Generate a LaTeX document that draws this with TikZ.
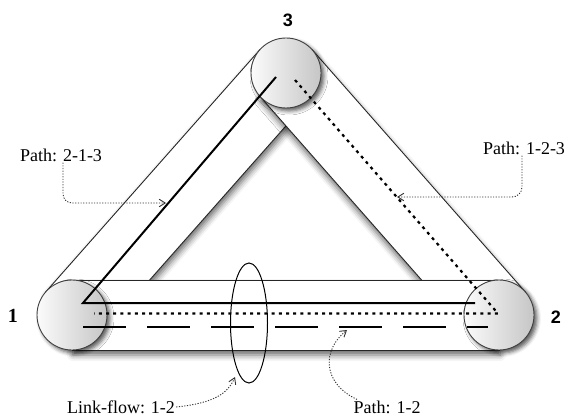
\documentclass[tikz,border=0pt]{standalone}
\usepackage{fontspec}
\setmainfont{Liberation Serif}
\newfontfamily\numfont{Liberation Sans}
\usetikzlibrary{calc,shadows.blur,arrows.meta,shapes.geometric}
\begin{document}
\begin{tikzpicture}[x=1pt,y=-1pt,
  bar/.style={fill=white, draw=black!85, line width=0.9pt,
    blur shadow={shadow xshift=1pt, shadow yshift=-5pt, shadow blur radius=6pt, shadow opacity=60}},
  nodecirc/.style={circle, minimum size=70pt, inner sep=0pt, draw=black!75, line width=0.9pt,
    left color=gray!3, right color=gray!45,
    blur shadow={shadow xshift=3pt, shadow yshift=-3pt, shadow blur radius=4pt, shadow opacity=65}},
  solidpath/.style={line width=2pt, black},
  dotpath/.style={line width=2.2pt, dash pattern=on 3pt off 4.2pt},
  dashpath/.style={line width=2pt, dash pattern=on 43pt off 21pt},
  note/.style={draw=black!80, line width=0.9pt, dash pattern=on 1.2pt off 1.5pt,
    -{Straight Barb[length=6pt,width=7.5pt]}},
  lbl/.style={font=\fontsize{18}{20}\selectfont, inner sep=1pt},
  numlbl/.style={font=\numfont\bfseries\fontsize{18}{20}\selectfont, inner sep=0pt}
]
\useasboundingbox (0,0) rectangle (568,417);

% node centres
\coordinate (p1) at (72,315);
\coordinate (p2) at (499,315);
\coordinate (p3) at (286,73);

% bars (links)
\draw[bar] ($(p1)!35pt!90:(p3)$) -- ($(p3)!35pt!-90:(p1)$) -- ($(p3)!35pt!90:(p1)$) -- ($(p1)!35pt!-90:(p3)$) -- cycle;
\draw[bar] ($(p2)!35pt!90:(p3)$) -- ($(p3)!35pt!-90:(p2)$) -- ($(p3)!35pt!90:(p2)$) -- ($(p2)!35pt!-90:(p3)$) -- cycle;
\draw[bar] ($(p1)!35pt!90:(p2)$) -- ($(p2)!35pt!-90:(p1)$) -- ($(p2)!35pt!90:(p1)$) -- ($(p1)!35pt!-90:(p2)$) -- cycle;

% node circles
\node[nodecirc] (c1) at (p1) {};
\node[nodecirc] (c2) at (p2) {};
\node[nodecirc] (c3) at (p3) {};

% paths
\coordinate (s3) at (276,77);
\coordinate (s1) at (83,303);
\coordinate (s2) at (475,303);
\draw[solidpath] (s3) -- (s1) -- (s2);

\coordinate (d3) at (295,80);
\coordinate (d2) at (498,313.5);
\coordinate (d1) at (94,313.5);
\draw[dotpath] (d3) -- (d2) -- (d1);

\coordinate (e1) at (83,326.5);
\coordinate (e2) at (488,326.5);
\draw[dashpath] (e1) -- (e2);

% link flow ellipse
\node[draw, ellipse, line width=1pt, minimum width=37pt, minimum height=120pt, inner sep=0pt] (lf) at (249,323) {};

% node labels
\node[font=\bfseries\fontsize{20}{22}\selectfont, inner sep=0pt] (n1) at (13,316) {1};
\node[numlbl] (n2) at (556,317) {2};
\node[numlbl] (n3) at (288,20) {3};

% annotation labels
\node[lbl] (l213) at (61,155) {Path: 2-1-3};
\node[lbl] (l123) at (524,148) {Path: 1-2-3};
\node[lbl] (llf) at (121,407) {Link-flow: 1-2};
\node[lbl] (l12) at (387,407) {Path: 1-2};

\coordinate (t213) at (166,203);
\coordinate (t123) at (397,197);
\coordinate (tlf) at (235,377);
\coordinate (t12) at (347,330);

\draw[note, rounded corners=9pt] ([xshift=2pt]l213.south) |- (t213);
\draw[note, rounded corners=10pt] ([xshift=-2pt]l123.south) |- (t123);
\draw[note] (llf.east) .. controls (215,403) and (228,393) .. (tlf);
\draw[note] ([xshift=-30pt]l12.north) .. controls (322,383) and (322,350) .. (t12);
\end{tikzpicture}
\end{document}
